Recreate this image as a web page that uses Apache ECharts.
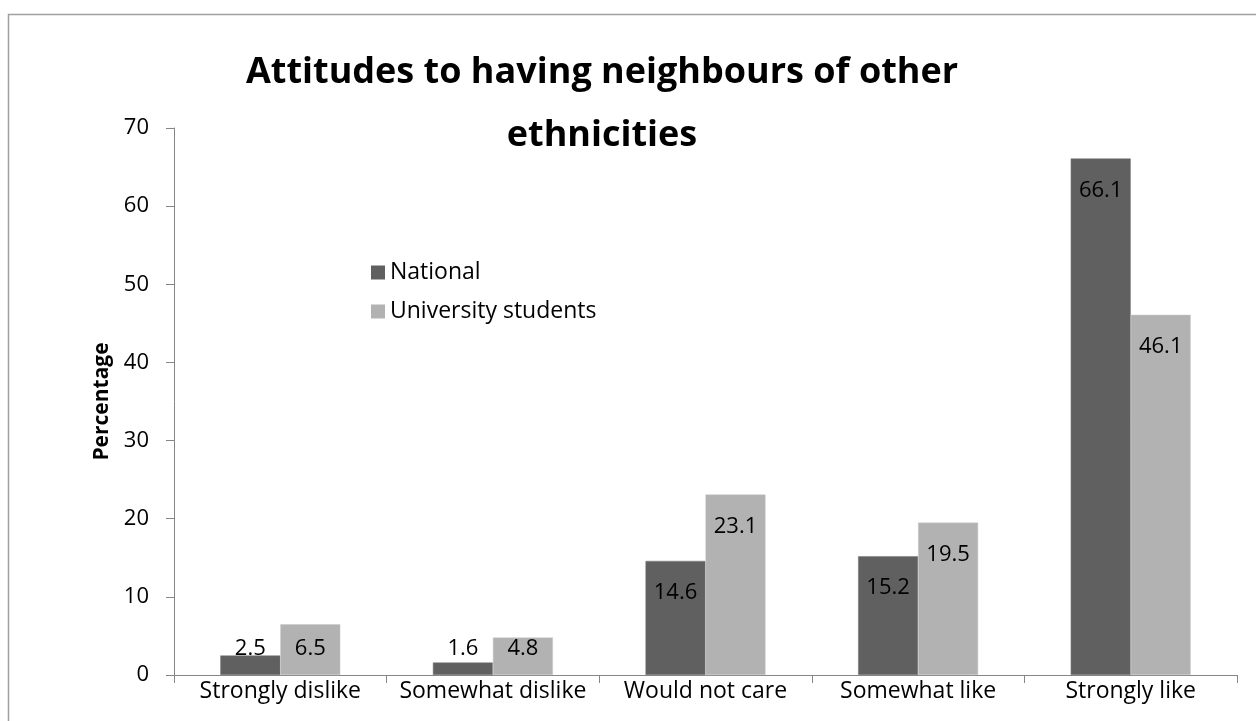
<!DOCTYPE html>
<html>
<head>
<meta charset="utf-8">
<script src="https://cdn.jsdelivr.net/npm/echarts@6/dist/echarts.min.js"></script>
<style>html,body{margin:0;padding:0;background:#fff}#c{width:1256px;height:721px}</style>
</head>
<body>
<div id="c"></div>
<script>
const categories = ['Strongly dislike', 'Somewhat dislike', 'Would not care', 'Somewhat like', 'Strongly like'];
const national = [2.5, 1.6, 14.6, 15.2, 66.1];
const students = [6.5, 4.8, 23.1, 19.5, 46.1];
const seriesNames = ['National', 'University students'];
const yTicks = [0, 10, 20, 30, 40, 50, 60, 70];

const FONT = 'Open Sans';
function items(arr) {
  return arr.map(v => v < 10
    ? { value: v, label: { position: 'insideBottom', distance: 15 } }
    : { value: v });
}
const labelCfg = { show: true, position: 'insideTop', distance: 21, color: '#000', fontSize: 22, fontFamily: FONT };

const chart = echarts.init(document.getElementById('c'), null, { renderer: 'canvas' });
chart.setOption({
  animation: false,
  backgroundColor: '#fff',
  graphic: [{
    type: 'polyline', silent: true,
    shape: { points: [[8.5, 800], [8.5, 14.5], [1300, 14.5]] },
    style: { stroke: '#a0a0a0', lineWidth: 1.5, fill: null }
  }],
  title: {
    text: 'Attitudes to having neighbours of other\nethnicities',
    left: 597, top: 36, textAlign: 'center',
    textStyle: { fontFamily: FONT, fontWeight: 'bold', fontSize: 36, lineHeight: 63, color: '#000' }
  },
  legend: {
    orient: 'vertical', left: 366, top: 256, itemGap: 16,
    itemWidth: 14, itemHeight: 14, icon: 'rect', itemStyle: { borderWidth: 0 },
    textStyle: { fontFamily: FONT, fontSize: 23, color: '#000' },
    data: seriesNames
  },
  grid: { left: 174, right: 19, top: 128, bottom: 46, containLabel: false },
  xAxis: {
    type: 'category', data: categories,
    axisLine: { lineStyle: { color: '#868686', width: 1 } },
    axisTick: { show: true, length: 8, lineStyle: { color: '#868686' } },
    axisLabel: { fontFamily: FONT, fontSize: 23, color: '#000', margin: 5, interval: 0 }
  },
  yAxis: {
    type: 'value', min: yTicks[0], max: yTicks[yTicks.length - 1], interval: 10,
    name: 'Percentage', nameLocation: 'middle', nameGap: 60,
    nameTextStyle: { fontFamily: FONT, fontWeight: 'bold', fontSize: 21, color: '#000' },
    axisLine: { show: true, lineStyle: { color: '#868686', width: 1 } },
    axisTick: { show: true, length: 8, lineStyle: { color: '#868686' } },
    splitLine: { show: false },
    axisLabel: { fontFamily: FONT, fontSize: 22, color: '#000', margin: 25 }
  },
  series: [
    { name: seriesNames[0], type: 'bar', data: items(national), barWidth: 60, barGap: '0%',
      itemStyle: { color: '#606060', borderColor: '#7a7a7a', borderWidth: 0.5 }, label: labelCfg },
    { name: seriesNames[1], type: 'bar', data: items(students), barWidth: 60, barGap: '0%',
      itemStyle: { color: '#b2b2b2', borderColor: '#c8c8c8', borderWidth: 0.5 }, label: labelCfg }
  ]
});
</script>
</body>
</html>
